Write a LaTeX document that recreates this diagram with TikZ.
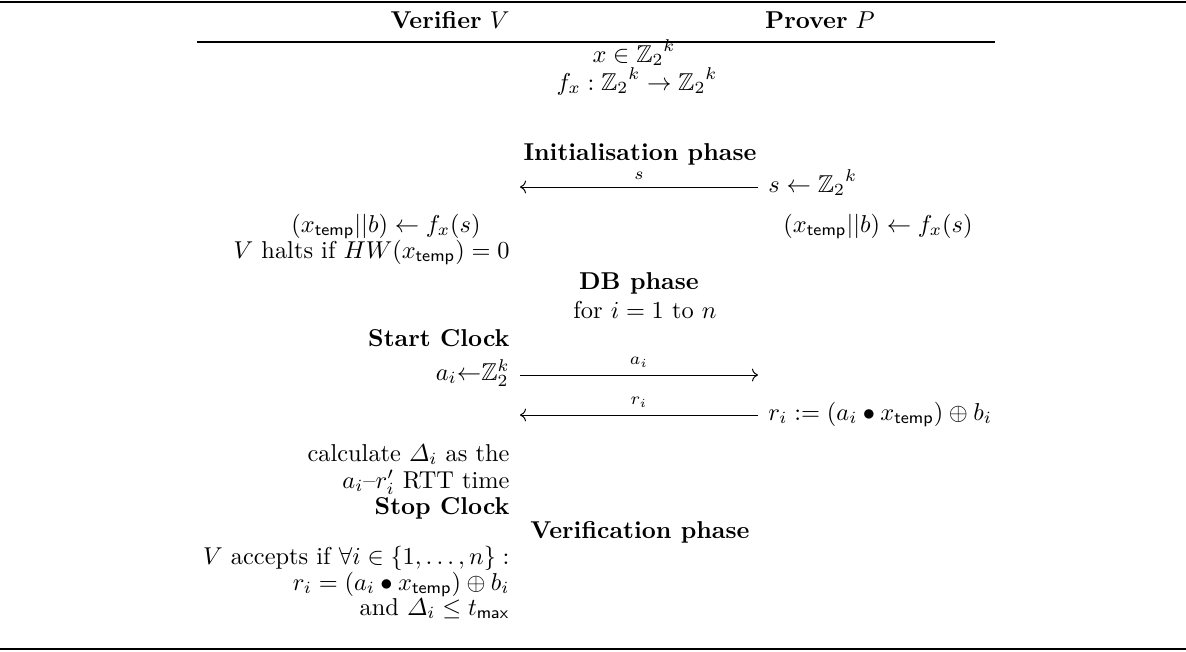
\documentclass[tikz,border=0pt]{standalone}
\usepackage{amsmath}
\usepackage{amssymb}
\usepackage{tikz}
\usetikzlibrary{arrows.meta,positioning}

\newcommand{\xtmp}{x_{\mathsf{temp}}}
\newcommand{\Ztwok}{{\mathbb{Z}_2}^k}

\begin{document}
\begin{tikzpicture}[
  x=0.41pt, y=-0.41pt,
  head/.style={anchor=base, inner sep=0pt},
  phase/.style={anchor=base, inner sep=0pt, font=\bfseries},
  vtext/.style={anchor=base east, inner sep=0pt},
  ptext/.style={anchor=base west, inner sep=0pt},
  ctext/.style={anchor=base, inner sep=0pt},
  msg/.style={-{To}, line width=0.4pt},
  lbl/.style={above=2pt, inner sep=1pt, font=\scriptsize}
]
  \useasboundingbox (0,0) rectangle (1186,651);
  % rules
  \draw[line width=0.8pt] (0,2) -- (1186,2);
  \draw[line width=0.5pt] (197,42) -- (995,42);
  \draw[line width=0.8pt] (0,649) -- (1186,649);

  \node[head] (verhead) at (450,28) {\textbf{Verifier} $V$};
  \node[head] (prohead) at (820,28) {\textbf{Prover} $P$};
  \node[ctext] (secretx) at (634,62) {$x \in \Ztwok$};
  \node[ctext] (funcf) at (637,90) {$f_x : \Ztwok \rightarrow \Ztwok$};

  % initialisation
  \node[phase] (initph) at (640,160) {Initialisation phase};
  \node[ptext] (sgen) at (768,192) {$s \leftarrow \Ztwok$};
  \node[ctext] (vderive) at (386,232) {$(\xtmp||b) \leftarrow f_x(s)$};
  \node[ptext] (pderive) at (783,232) {$(\xtmp||b) \leftarrow f_x(s)$};
  \node[vtext] (vhalt) at (510,258) {$V$ halts if $HW(\xtmp) = 0$};
  \coordinate (sR) at (758,187);
  \coordinate (sL) at (520,187);
  \draw[msg] (sR) -- node[lbl] {$s$} (sL);

  % DB phase
  \node[phase] (dbph) at (639,289) {DB phase};
  \node[ctext] (forloop) at (645,318) {for $i = 1$ to $n$};
  \node[vtext, font=\bfseries] (startclk) at (510,346) {Start Clock};
  \node[vtext] (agen) at (510,380) {$a_i{\leftarrow}\mathbb{Z}_2^k$};
  \node[ptext] (rresp) at (768,420) {$r_i := (a_i \bullet \xtmp) \oplus b_i$};
  \coordinate (aL) at (520,375);
  \coordinate (aR) at (758,375);
  \coordinate (rR) at (758,415);
  \coordinate (rL) at (520,415);
  \draw[msg] (aL) -- node[lbl] {$a_i$} (aR);
  \draw[msg] (rR) -- node[lbl] {$r_i$} (rL);
  \node[vtext] (calcdelta) at (510,461) {calculate $\varDelta_i$ as the};
  \node[vtext] (rtt) at (510,488) {$a_i$--$r'_i$ RTT time};
  \node[vtext, font=\bfseries] (stopclk) at (510,514) {Stop Clock};

  % verification
  \node[phase] (verph) at (640,538) {Verification phase};
  \node[vtext] (vaccept) at (510,564) {$V$ accepts if $\forall i \in \{1,\ldots,n\} :$};
  \node[vtext] (vcheck) at (510,590) {$r_i = (a_i \bullet \xtmp) \oplus b_i$};
  \node[vtext] (vbound) at (510,615) {and $\varDelta_i \leq t_{\mathsf{max}}$};
\end{tikzpicture}
\end{document}
